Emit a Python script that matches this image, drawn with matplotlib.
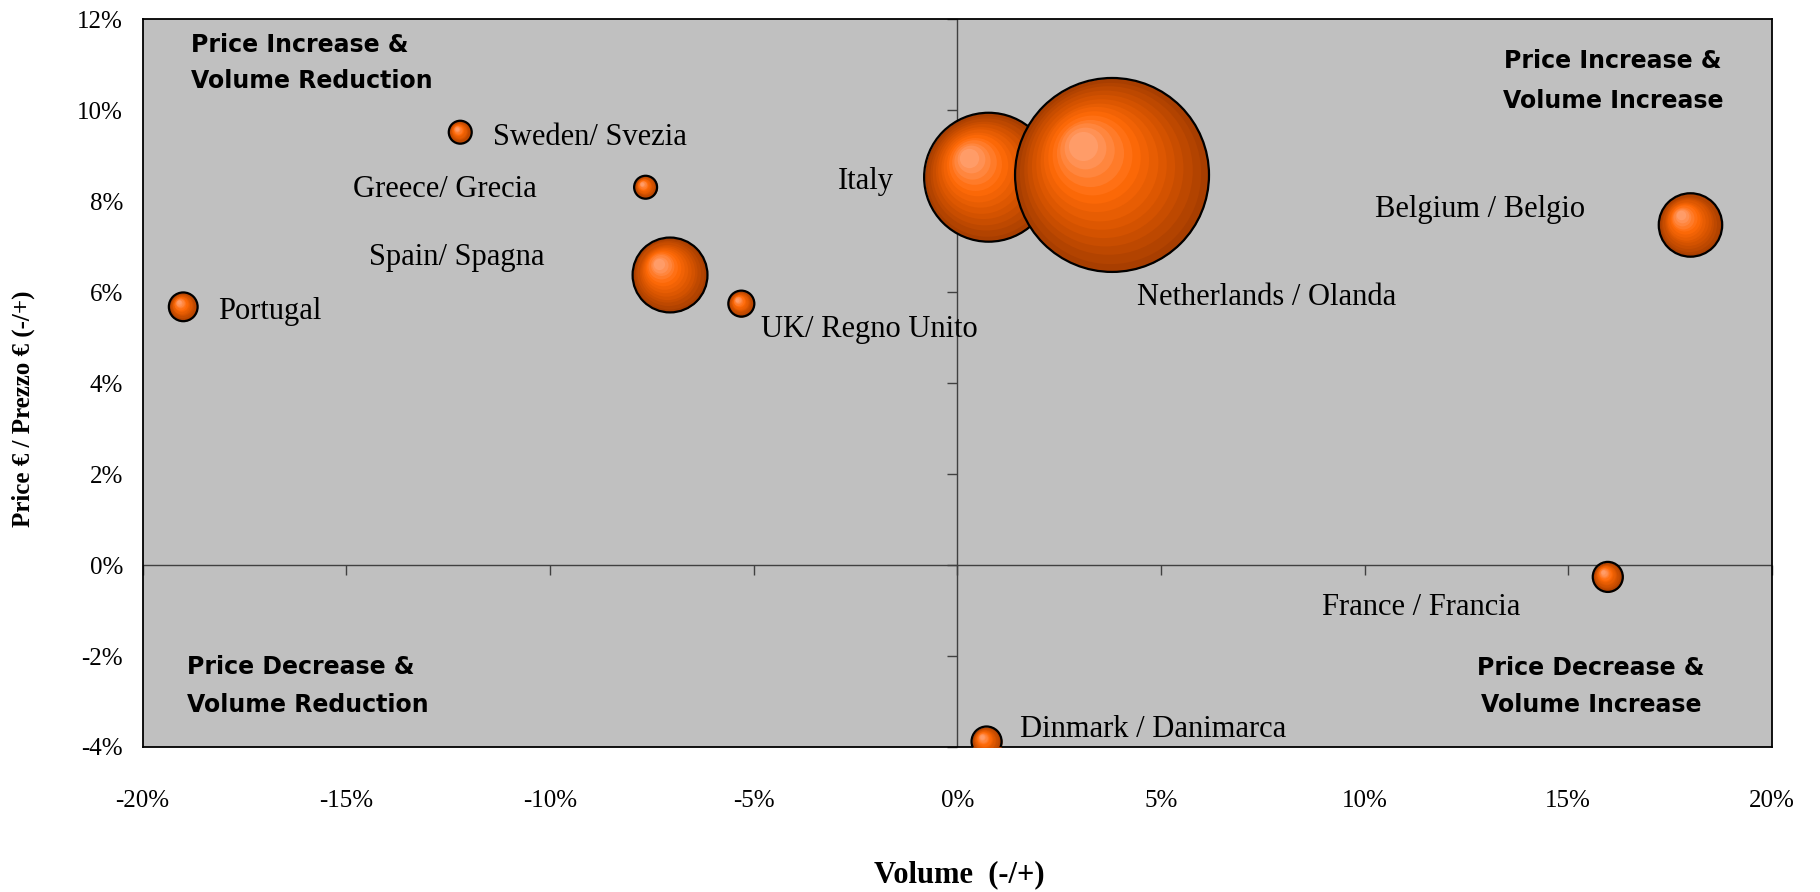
import matplotlib
matplotlib.use('Agg')
import numpy as np
import matplotlib.pyplot as plt
from matplotlib.colors import LinearSegmentedColormap
from matplotlib.transforms import offset_copy

# data (volume change %, price change %, bubble size)
countries = ['Portugal', 'Sweden/ Svezia', 'Greece/ Grecia', 'Spain/ Spagna',
             'UK/ Regno Unito', 'Italy', 'Netherlands / Olanda',
             'Belgium / Belgio', 'France / Francia', 'Dinmark / Danimarca']
volume = [-19.0, -12.2, -7.65, -7.05, -5.3, 0.77, 3.8, 18.0, 15.97, 0.72]
price = [5.68, 9.52, 8.31, 6.38, 5.75, 8.53, 8.58, 7.48, -0.26, -3.88]
market = [2.2, 1.4, 1.4, 14.9, 1.8, 44.2, 100.0, 10.7, 2.4, 2.4]

# where each label sits (data coords, left/baseline)
label_x = [-18.15, -11.40, -14.83, -14.44, -4.82, -2.93, 4.41, 10.25, 8.95, 1.54]
label_y = [5.41, 9.24, 8.10, 6.60, 5.02, 8.27, 5.72, 7.66, -1.10, -3.78]

xticks = [-20, -15, -10, -5, 0, 5, 10, 15, 20]
yticks = [-4, -2, 0, 2, 4, 6, 8, 10, 12]

# quadrant captions, one entry per line: text, x, y (axes fraction), align
quadrant_lines = [
    ('Price Increase &', 0.030, 0.9684, 'left'),
    ('Volume Reduction', 0.030, 0.9189, 'left'),
    ('Price Increase &', 0.9025, 0.9464, 'center'),
    ('Volume Increase', 0.9025, 0.8914, 'center'),
    ('Price Decrease &', 0.027, 0.1127, 'left'),
    ('Volume Reduction', 0.027, 0.0605, 'left'),
    ('Price Decrease &', 0.889, 0.1113, 'center'),
    ('Volume Increase', 0.889, 0.0605, 'center'),
]

SIZE_SCALE = 195.0   # pt^2 per size unit
serif = 'Liberation Serif'

fig = plt.figure(figsize=(18.2, 8.92), dpi=100)
ax = fig.add_axes([0.0783, 0.1626, 0.8953, 0.8156])
ax.set_facecolor('#c0c0c0')
ax.set_xlim(-20, 20)
ax.set_ylim(-4, 12)

for sp in ax.spines.values():
    sp.set_color('black')
    sp.set_linewidth(1.3)

ax.set_xticks(xticks)
ax.set_yticks(yticks)
ax.set_xticklabels([f'{v:.0f}%' for v in xticks], fontfamily=serif, fontsize=18)
ax.set_yticklabels([f'{v:.0f}%' for v in yticks], fontfamily=serif, fontsize=18)
ax.tick_params(axis='x', length=0, pad=31)
ax.tick_params(axis='y', length=0, pad=14)

# axes crossing at zero, with their own tick marks
ax.axhline(0, color='#404040', lw=1, zorder=1)
ax.axvline(0, color='#404040', lw=1, zorder=1)
ax.plot(xticks, [0] * len(xticks), ls='none', marker=3, ms=7, mew=1,
        color='#404040', zorder=1, clip_on=False)
ax.plot([0] * len(yticks), yticks, ls='none', marker=0, ms=7, mew=1,
        color='#404040', zorder=1, clip_on=False)

# shaded bubbles
cmap = LinearSegmentedColormap.from_list(
    'ball', [(0, '#a83e00'), (0.35, '#d95500'), (0.65, '#ff6a08'), (1, '#ff9c68')])
N = 14
for i, (x, y, m) in enumerate(zip(volume, price, market)):
    s = m * SIZE_SCALE
    r = np.sqrt(s) / 2
    z = 3 + i
    for k in range(N):
        t = k / (N - 1)
        tr = offset_copy(ax.transData, fig=fig, x=-0.3 * r * t, y=0.3 * r * t, units='points')
        ax.scatter([x], [y], s=s * (1 - 0.85 * t) ** 2, color=cmap(t),
                   linewidths=0, transform=tr, zorder=z)
    ax.scatter([x], [y], s=s, facecolors='none', edgecolors='black',
               linewidths=1.6, zorder=z)

for name, lx, ly in zip(countries, label_x, label_y):
    ax.text(lx, ly, name, fontfamily=serif, fontsize=22, ha='left',
            va='baseline', zorder=20)

for txt, qx, qy, ha in quadrant_lines:
    ax.text(qx, qy, txt, transform=ax.transAxes, fontfamily='DejaVu Sans',
            fontweight='bold', fontsize=17, ha=ha, va='center_baseline', zorder=20)

fig.text(0.0126, 0.5415, 'Price € / Prezzo € (-/+)', rotation=90, ha='center',
         va='center', fontfamily=serif, fontweight='bold', fontsize=18)
fig.text(0.527, 0.019, 'Volume  (-/+)', ha='center', va='center',
         fontfamily=serif, fontweight='bold', fontsize=22)

fig.savefig('out.png', dpi=100)
